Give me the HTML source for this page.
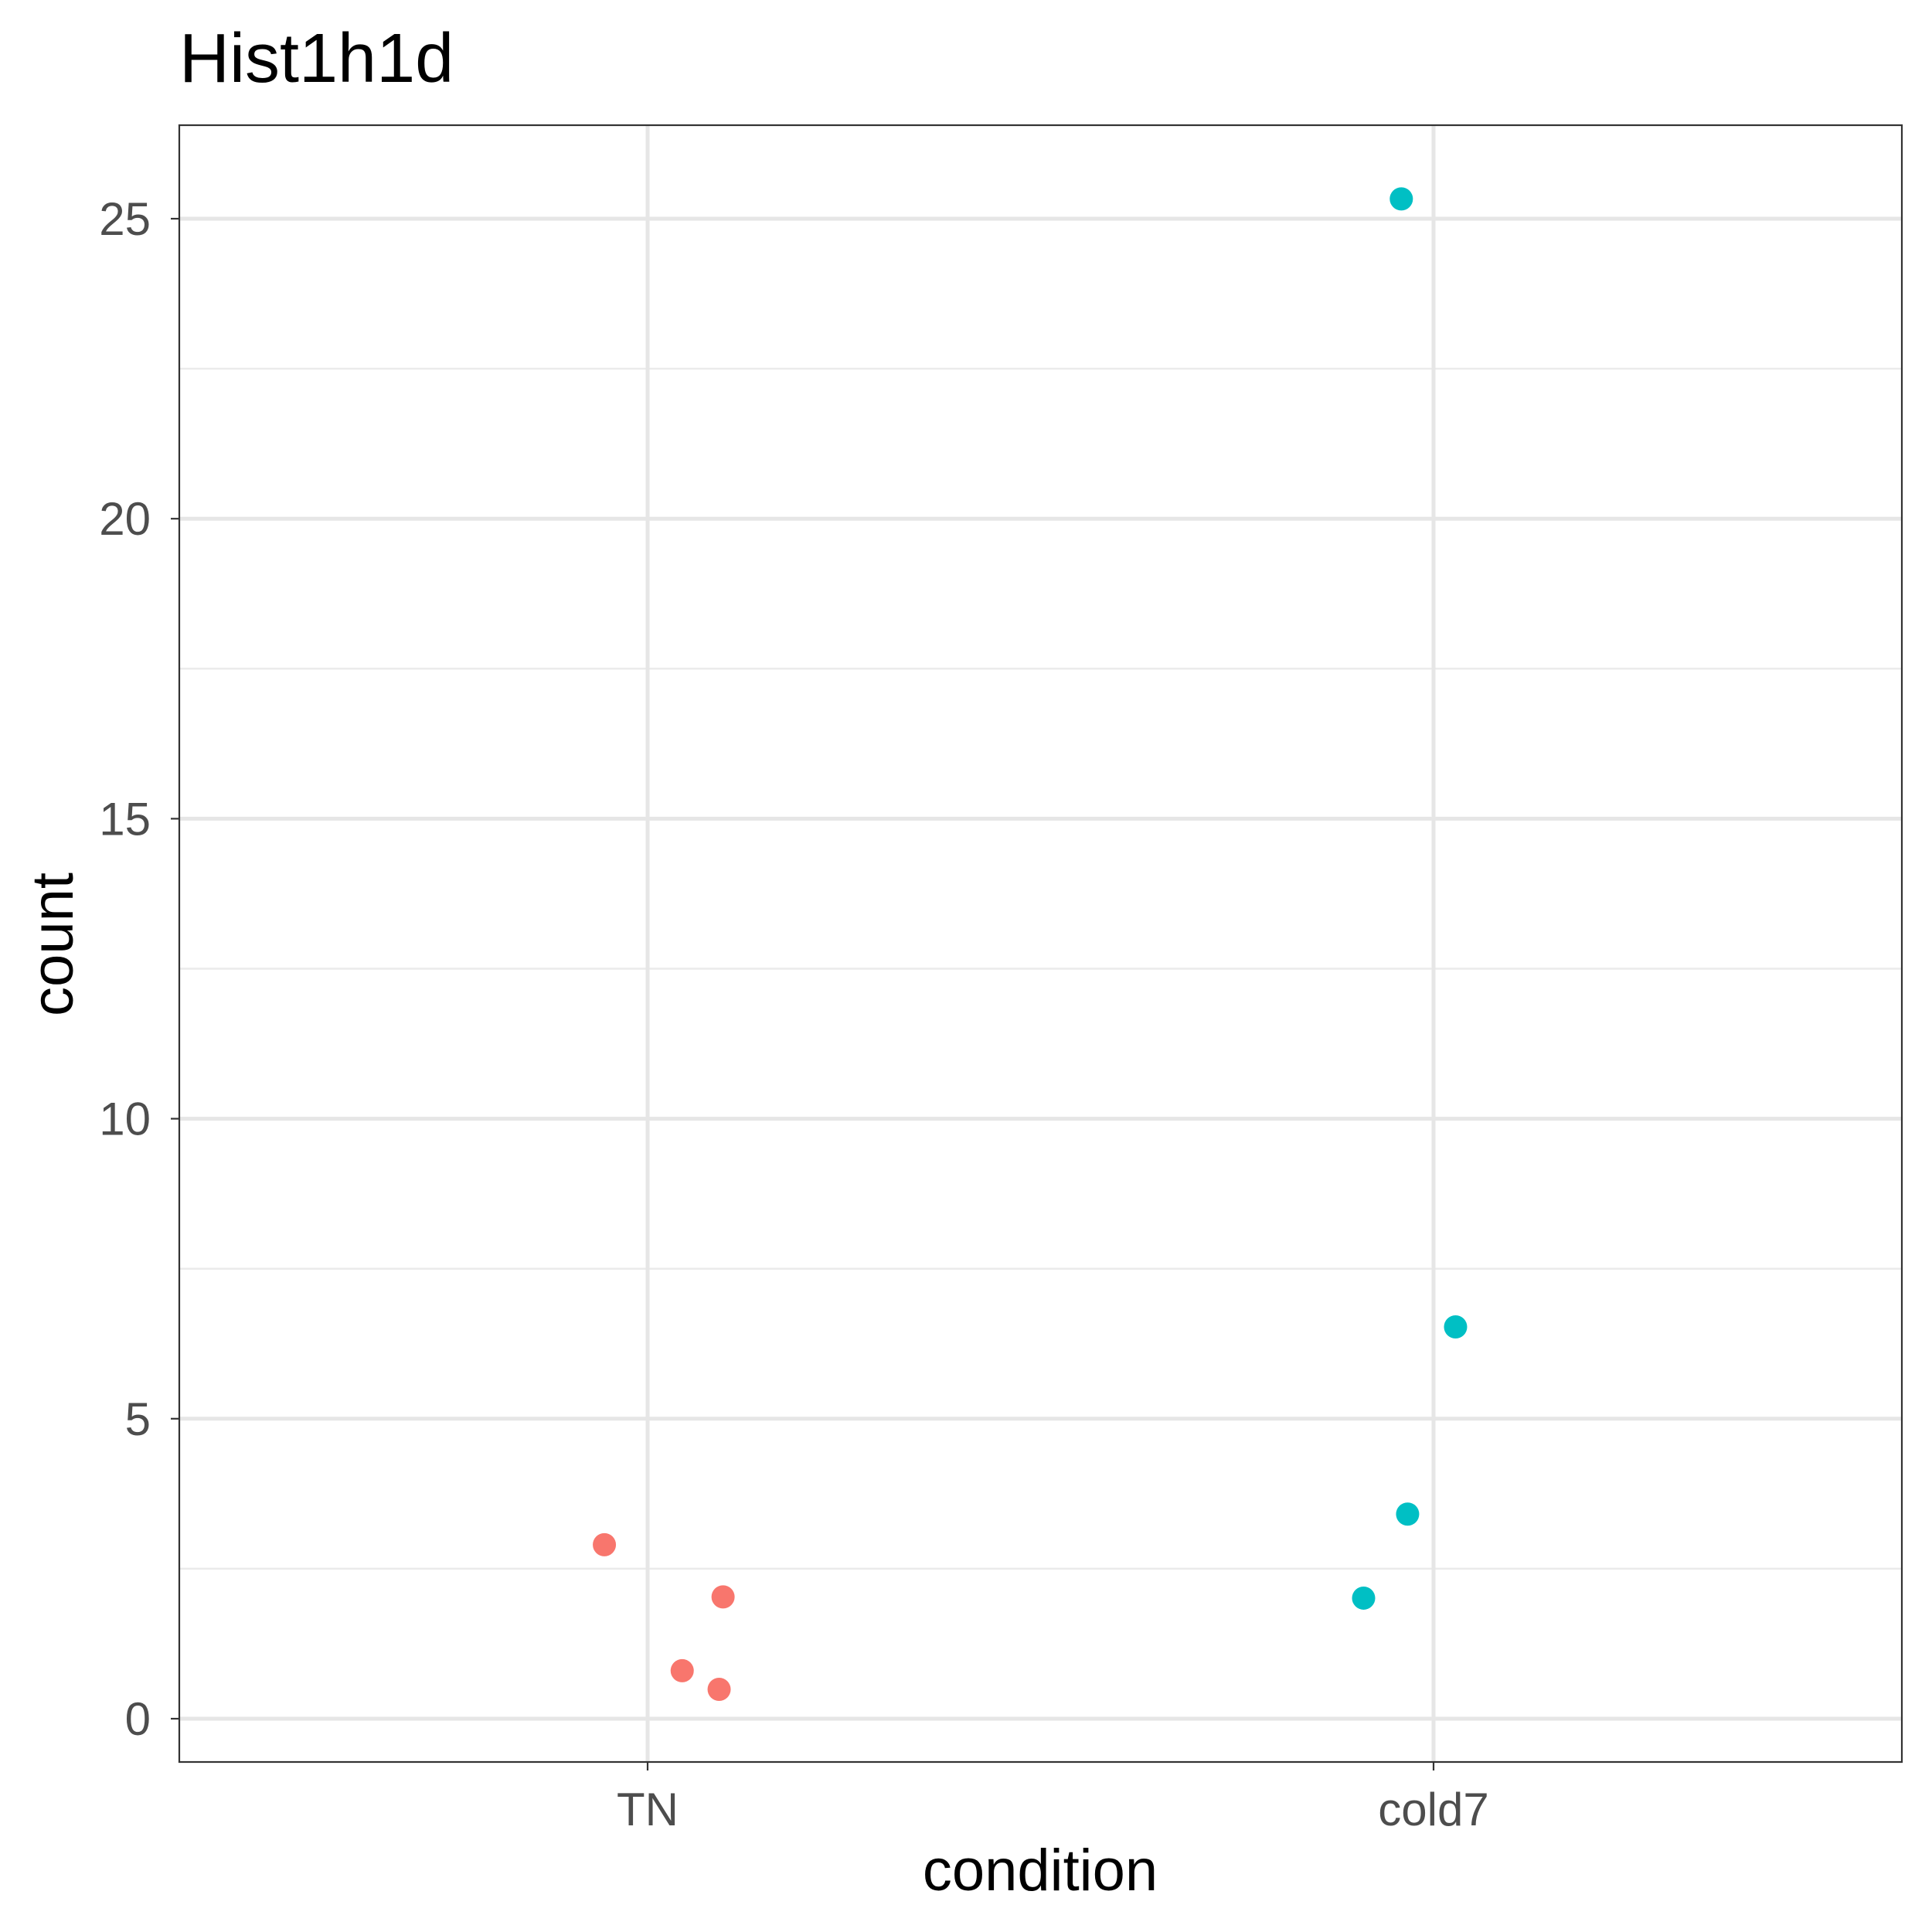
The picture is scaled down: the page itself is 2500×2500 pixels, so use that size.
<!DOCTYPE html>
<html><head><meta charset="utf-8"><style>html,body{margin:0;padding:0;background:#fff}svg{display:block}</style></head>
<body>
<svg id="chart" width="2500" height="2500" viewBox="0 0 2500 2500" xmlns="http://www.w3.org/2000/svg" font-family="Liberation Sans, Arial, sans-serif">
<rect x="0" y="0" width="2500" height="2500" fill="#fff"/>
<text x="232" y="106" font-size="90" fill="#000">Hist1h1d</text>
<g id="grid"></g>
<g id="points"></g>
<rect x="232" y="162" width="2229" height="2118" fill="none" stroke="#333" stroke-width="2.2"/>
<g id="axes"></g>
<text x="1346" y="2446" font-size="76" text-anchor="middle" fill="#000">condition</text>
<text transform="translate(94,1222) rotate(-90)" font-size="76" text-anchor="middle" fill="#000">count</text>
</svg>
<script>
const categories = ["TN", "cold7"];
const pointCategory = ["TN","TN","TN","TN","cold7","cold7","cold7","cold7"];
const pointJitter = [-0.055, 0.096, 0.044, 0.091, -0.041, 0.028, -0.033, -0.089];
const pointValues = [2.90, 2.03, 0.80, 0.49, 25.33, 6.53, 3.41, 2.01];
const yTicks = [0, 5, 10, 15, 20, 25];
const yMinor = [2.5, 7.5, 12.5, 17.5, 22.5];
const colors = {"TN":"#F8766D","cold7":"#00BFC4"};

const L=232,R=2461,T=162,B=2280;
const yScale = v => 2224 - v*77.64;
const xScale = (c, j) => 838 + (categories.indexOf(c) + j) * 1017;
const NS="http://www.w3.org/2000/svg";
function mk(tag, attrs, parent){const e=document.createElementNS(NS,tag);for(const k in attrs)e.setAttribute(k,attrs[k]);parent.appendChild(e);return e;}
const grid=document.getElementById('grid'), pts=document.getElementById('points'), axes=document.getElementById('axes');
yMinor.forEach(v=>{const y=yScale(v);
 const l=mk('line',{x1:L,x2:R,y1:y,y2:y,stroke:'#ebebeb','stroke-width':2.5},grid);
 
 });
yTicks.forEach(v=>{const y=yScale(v);
 const l=mk('line',{x1:L,x2:R,y1:y,y2:y,stroke:'#e6e6e6','stroke-width':5},grid);
 
 
 const t=mk('line',{x1:L-11,x2:L,y1:y,y2:y,stroke:'#333','stroke-width':2.2},axes);
 
 
 const tx=mk('text',{x:L-37,y:y+21,'font-size':60,'text-anchor':'end',fill:'#4d4d4d'},axes);
 tx.textContent=v;
 
 });
categories.forEach(c=>{const x=xScale(c,0);
 const l=mk('line',{x1:x,x2:x,y1:T,y2:B,stroke:'#e6e6e6','stroke-width':5},grid);
 
 
 const t=mk('line',{x1:x,x2:x,y1:B,y2:B+11,stroke:'#333','stroke-width':2.2},axes);
 
 
 const tx=mk('text',{x:x,y:2362,'font-size':60,'text-anchor':'middle',fill:'#4d4d4d'},axes);
 tx.textContent=c;
 
 });
pointValues.forEach((v,i)=>{const c=pointCategory[i];
 const p=mk('circle',{cx:xScale(c,pointJitter[i]),cy:yScale(v),r:15,fill:colors[c]},pts);
 
 });
</script>
</body></html>
